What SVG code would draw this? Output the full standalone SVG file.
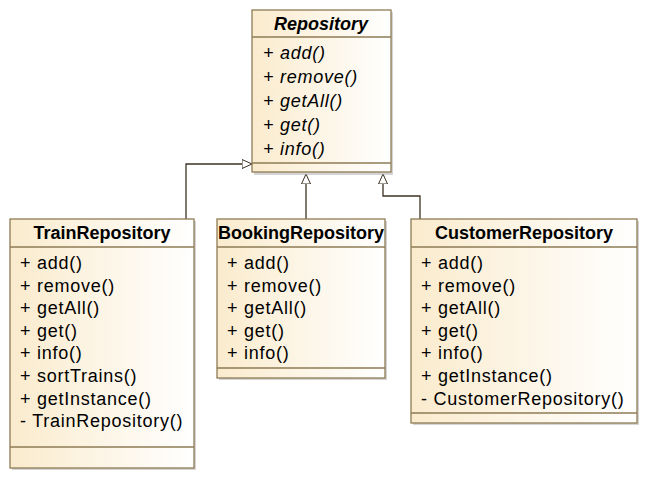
<svg xmlns="http://www.w3.org/2000/svg" width="648" height="481" viewBox="0 0 648 481">
<defs>
<linearGradient id="fill" x1="0" y1="0" x2="1" y2="0">
<stop offset="0" stop-color="#FAEBCD"/>
<stop offset="1" stop-color="#FFFFFF"/>
</linearGradient>
<marker id="gen" viewBox="0 0 10 10" refX="10" refY="5" markerWidth="10" markerHeight="10" markerUnits="userSpaceOnUse" orient="auto">
<path d="M0,0.5 L10,5 L0,9.5 Z" fill="#FFFFFF" stroke="#3C3222" stroke-width="1"/>
</marker>
</defs>
<style>
.shadow{fill:#B8B8B8;opacity:0.6}
.box{fill:url(#fill);stroke:#8E7B55;stroke-width:1.3}
.sep{stroke:#8E7B55;stroke-width:1.3}
.title{font-family:"Liberation Sans",Arial,sans-serif;font-size:18px;font-weight:bold;text-anchor:middle;fill:#000}
.op{font-family:"Liberation Sans",Arial,sans-serif;font-size:18px;letter-spacing:0.75px;fill:#000}
.abs{font-style:italic}
.conn{fill:none;stroke:#3C3222;stroke-width:1.3}
</style>
<rect width="648" height="481" fill="#FFFFFF"/>
<g id="connectors">
<polyline class="conn" points="186,219 186,164 252,164" marker-end="url(#gen)"/>
<polyline class="conn" points="306,219 306,174" marker-end="url(#gen)"/>
<polyline class="conn" points="420,219 420,196 383,196 383,174" marker-end="url(#gen)"/>
</g>
<g id="Repository">
<rect class="shadow" x="254" y="12" width="139" height="163"/>
<rect class="box" x="252" y="10" width="139" height="162"/>
<line class="sep" x1="252" y1="37" x2="391" y2="37"/>
<line class="sep" x1="252" y1="163" x2="391" y2="163"/>
<text class="title abs" x="321" y="30">Repository</text>
<text class="op abs" x="263" y="59">+ add()</text>
<text class="op abs" x="263" y="83">+ remove()</text>
<text class="op abs" x="263" y="107">+ getAll()</text>
<text class="op abs" x="263" y="131">+ get()</text>
<text class="op abs" x="263" y="155">+ info()</text>
</g>
<g id="TrainRepository">
<rect class="shadow" x="12" y="221" width="184" height="249"/>
<rect class="box" x="10" y="219" width="184" height="249"/>
<line class="sep" x1="10" y1="247" x2="194" y2="247"/>
<line class="sep" x1="10" y1="447" x2="194" y2="447"/>
<text class="title" x="102" y="239">TrainRepository</text>
<text class="op" x="20" y="269">+ add()</text>
<text class="op" x="20" y="291.6">+ remove()</text>
<text class="op" x="20" y="314.2">+ getAll()</text>
<text class="op" x="20" y="336.8">+ get()</text>
<text class="op" x="20" y="359.4">+ info()</text>
<text class="op" x="20" y="382">+ sortTrains()</text>
<text class="op" x="20" y="404.6">+ getInstance()</text>
<text class="op" x="20" y="427.2">- TrainRepository()</text>
</g>
<g id="BookingRepository">
<rect class="shadow" x="219" y="221" width="168" height="159"/>
<rect class="box" x="217" y="219" width="168" height="159"/>
<line class="sep" x1="217" y1="247" x2="385" y2="247"/>
<line class="sep" x1="217" y1="368" x2="385" y2="368"/>
<text class="title" x="301" y="239">BookingRepository</text>
<text class="op" x="227" y="269">+ add()</text>
<text class="op" x="227" y="291.6">+ remove()</text>
<text class="op" x="227" y="314.2">+ getAll()</text>
<text class="op" x="227" y="336.8">+ get()</text>
<text class="op" x="227" y="359.4">+ info()</text>
</g>
<g id="CustomerRepository">
<rect class="shadow" x="413" y="221" width="226" height="204"/>
<rect class="box" x="411" y="219" width="226" height="204"/>
<line class="sep" x1="411" y1="247" x2="637" y2="247"/>
<line class="sep" x1="411" y1="413" x2="637" y2="413"/>
<text class="title" x="524" y="239">CustomerRepository</text>
<text class="op" x="421" y="269">+ add()</text>
<text class="op" x="421" y="291.6">+ remove()</text>
<text class="op" x="421" y="314.2">+ getAll()</text>
<text class="op" x="421" y="336.8">+ get()</text>
<text class="op" x="421" y="359.4">+ info()</text>
<text class="op" x="421" y="382">+ getInstance()</text>
<text class="op" x="421" y="404.6">- CustomerRepository()</text>
</g>
</svg>
